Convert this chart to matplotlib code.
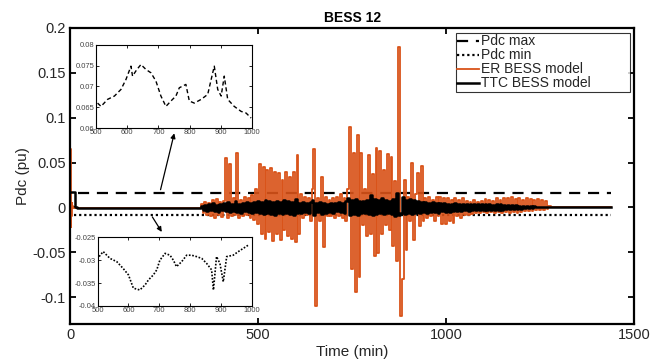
import numpy as np
import matplotlib
matplotlib.use("Agg")
import matplotlib.pyplot as plt

plt.rcParams['font.family'] = ['Liberation Sans', 'DejaVu Sans']

# ---------------- data ----------------
pdc_max_t = [20, 1440]
pdc_max_v = [0.0165, 0.0165]
pdc_min_t = [10, 1440]
pdc_min_v = [-0.008, -0.008]

# ER BESS model: start transient, flat part, active part (5-min samples from 350), tail
er_start_t = [0, 1, 2, 3, 4, 5, 7, 10, 15, 345]
er_start_v = [0.0, 0.065, -0.022, 0.030, -0.010, 0.005, 0.001, -0.001, -0.001, -0.001]
er_active_start = 350
er_active_v = [
    0.004, -0.006, 0.006, -0.008, 0.005, -0.010, 0.008, -0.012, 0.009, -0.008, 0.006, -0.011, 0.007,
    0.055, -0.012, 0.048, -0.010, 0.010, -0.008, 0.061, -0.012, 0.008, -0.010, 0.012, -0.009,
    0.010, -0.012, 0.014, -0.014, 0.020, -0.018,
    0.048, -0.030, 0.045, -0.035, 0.042, -0.028, 0.044, -0.038, 0.040, -0.030, 0.038, -0.036,
    0.030, -0.025, 0.040, -0.032, 0.034, -0.035, 0.040, -0.039, 0.058, -0.030, 0.015, -0.012,
    0.012, -0.008, 0.010, -0.015, 0.020,
    0.065, -0.110, 0.010, -0.015, 0.034, -0.044, 0.012, -0.010, 0.008, -0.010, 0.010, -0.012,
    0.012, -0.010, 0.015, -0.012, 0.010, -0.015, 0.020,
    0.090, -0.069, 0.061, -0.094, 0.081, -0.078, 0.061, -0.020, 0.020, -0.032, 0.058, -0.030,
    0.037, -0.054, 0.066, -0.051, 0.063, -0.030, 0.042, -0.020, 0.060, -0.025, 0.056, -0.043,
    0.029, -0.060,
    0.179, -0.121, -0.080, 0.031, -0.047, 0.012, -0.015, 0.049, -0.036, 0.015, 0.038, -0.021,
    0.046, -0.015, 0.010, -0.012, 0.012, -0.010, 0.008, -0.015, 0.012, -0.010, 0.012, -0.018,
    0.010, -0.019, 0.011,
    -0.015, 0.008, -0.017, 0.010, -0.010, 0.008, -0.012, 0.010, -0.008, 0.007, -0.009, 0.006,
    -0.007, 0.008, -0.006, 0.006, -0.006, 0.007, -0.005, 0.009, -0.006, 0.008, -0.005, 0.007,
    -0.006, 0.010, -0.005, 0.008, -0.006, 0.010, -0.005, 0.011, -0.006, 0.012, -0.005, 0.009,
    -0.006, 0.011, -0.005, 0.008, -0.004, 0.010, -0.004, 0.009, -0.004, 0.008, -0.003, 0.009,
    -0.003, 0.008, -0.003, 0.007, -0.002, 0.001,
]
er_tail_t = [1285, 1440]
er_tail_v = [0.0, 0.0]

# TTC BESS model
ttc_start_t = [0, 13, 16, 20, 345]
ttc_start_v = [0.017, 0.017, 0.0, -0.001, -0.001]
ttc_active_start = 350
ttc_active_v = [
    0.002, -0.003, 0.003, -0.004, 0.004, -0.003, 0.005, -0.004, 0.003, -0.005, 0.004, -0.003, 0.005,
    -0.004, 0.006, -0.005, 0.004, -0.004, 0.007, -0.005, 0.004, -0.006, 0.005, -0.004, 0.006,
    -0.005, 0.005, -0.006, 0.006, -0.005,
    0.007, -0.006, 0.006, -0.007, 0.008, -0.006, 0.007, -0.007, 0.006, -0.008, 0.007, -0.006,
    0.006, -0.007, 0.008, -0.006, 0.007, -0.007, 0.006, -0.008, 0.009, -0.006, 0.005, -0.006,
    0.006, -0.005, 0.005, -0.006, 0.006,
    0.008, -0.008, 0.005, -0.005, 0.006, -0.007, 0.005, -0.006, 0.004, -0.005, 0.005, -0.006,
    0.005, -0.004, 0.006, -0.005, 0.005, -0.006, 0.007,
    0.010, -0.008, 0.008, -0.007, 0.009, -0.008, 0.007, -0.006, 0.007, -0.006, 0.008, -0.007,
    0.014, -0.008, 0.009, -0.007, 0.008, -0.006, 0.010, -0.007, 0.008, -0.006, 0.007, -0.007,
    0.009, -0.010,
    0.016, -0.009, -0.006, 0.012, -0.007, 0.008, -0.006, 0.009, -0.007, 0.008, -0.006, 0.007,
    -0.006, 0.006, -0.005, 0.006, -0.006, 0.005, -0.005, 0.006, -0.005, 0.005, -0.006, 0.005,
    -0.004, 0.005, -0.005,
    0.004, -0.005, 0.004, -0.004, 0.005, -0.004, 0.004, -0.004, 0.004, -0.003, 0.004, -0.004,
    0.004, -0.003, 0.004, -0.003, 0.004, -0.003, 0.004, -0.003, 0.004, -0.003, 0.004, -0.003,
    0.003, -0.003, 0.004, -0.003, 0.004, -0.003, 0.003, -0.002, 0.003, -0.002, 0.003, -0.002,
    0.003, -0.002, 0.002, -0.002, 0.002, -0.001, 0.002, -0.001, 0.001, -0.001, 0.001, 0.000,
    0.000, 0.000, 0.000, 0.000, 0.000, 0.000,
]
ttc_tail_t = [1285, 1440]
ttc_tail_v = [0.0, 0.0]

# inset data
inset_top_t = [505, 516, 537, 559, 580, 596, 612, 617, 630, 644, 660, 676, 692, 708, 724,
               740, 756, 767, 788, 799, 815, 837, 858, 869, 879, 890, 901, 911, 922, 943,
               965, 981, 997]
inset_top_v = [0.0660, 0.0652, 0.0669, 0.0677, 0.0693, 0.0717, 0.0749, 0.0725, 0.0740,
               0.0753, 0.0741, 0.0733, 0.0713, 0.0677, 0.0652, 0.0665, 0.0677, 0.0697,
               0.0705, 0.0665, 0.0660, 0.0669, 0.0681, 0.0717, 0.0749, 0.0693, 0.0677,
               0.0725, 0.0669, 0.0652, 0.0640, 0.0636, 0.0624]
inset_bot_t = [505, 518, 540, 562, 583, 600, 616, 637, 654, 665, 681, 692, 702, 719, 735,
               746, 756, 773, 789, 805, 821, 838, 854, 870, 876, 886, 897, 908, 919, 940,
               957, 973, 989]
inset_bot_v = [-0.0292, -0.0281, -0.0296, -0.0303, -0.0318, -0.0332, -0.0361, -0.0365,
               -0.0354, -0.0343, -0.0332, -0.0321, -0.0300, -0.0285, -0.0289, -0.0300,
               -0.0314, -0.0303, -0.0289, -0.0289, -0.0292, -0.0296, -0.0307, -0.0321,
               -0.0365, -0.0292, -0.0307, -0.0347, -0.0292, -0.0289, -0.0281, -0.0274,
               -0.0267]

xticks = [0, 500, 1000, 1500]
yticks = [-0.1, -0.05, 0, 0.05, 0.1, 0.15, 0.2]
ytick_labels = ['-0.1', '-0.05', '0', '0.05', '0.1', '0.15', '0.2']

# ---------------- build series ----------------
er_t = np.concatenate([er_start_t,
                       er_active_start + 5 * np.arange(len(er_active_v)),
                       er_tail_t])
er_v = np.concatenate([er_start_v, er_active_v, er_tail_v])
ttc_t = np.concatenate([ttc_start_t,
                        ttc_active_start + 5 * np.arange(len(ttc_active_v)),
                        ttc_tail_t])
ttc_v = np.concatenate([ttc_start_v, ttc_active_v, ttc_tail_v])

ORANGE = '#D95319'
TXT = '#262626'

fig = plt.figure(figsize=(6.65, 3.62), dpi=100)
ax = fig.add_axes([0.1053, 0.105, 0.8481, 0.8177])

ax.plot(pdc_max_t, pdc_max_v, ls=(0, (5, 3.5)), color='black', lw=1.6, label='Pdc max')
ax.plot(pdc_min_t, pdc_min_v, ls=(0, (1, 1.3)), color='black', lw=1.6, label='Pdc min')
ax.plot(er_t, er_v, color=ORANGE, lw=1.3, drawstyle='steps-mid', label='ER BESS model')
ax.plot(ttc_t, ttc_v, color='black', lw=1.8, drawstyle='steps-mid', label='TTC BESS model')

ax.set_xlim(0, 1500)
ax.set_ylim(-0.13, 0.2)
ax.set_xticks(xticks)
ax.set_xticklabels([str(t) for t in xticks])
ax.set_yticks(yticks)
ax.set_yticklabels(ytick_labels)
ax.tick_params(direction='in', length=4, width=1.3, top=True, right=True,
               labelsize=10.5, labelcolor=TXT, pad=3)
for s in ax.spines.values():
    s.set_linewidth(1.6)
ax.set_xlabel('Time (min)', fontsize=11, color=TXT, labelpad=2)
ax.set_ylabel('Pdc (pu)', fontsize=11, color=TXT, labelpad=2)
ax.set_title('BESS 12', fontsize=10, fontweight='bold', pad=4)

leg = ax.legend(loc='upper left', bbox_to_anchor=(0.684, 0.797, 0.3085, 0.186),
                mode='expand', fontsize=10, frameon=True, fancybox=False,
                edgecolor='black', borderpad=0.1, labelspacing=0.0,
                handlelength=1.6, handletextpad=0.1, borderaxespad=0.0)
leg.get_frame().set_linewidth(0.8)
for t in leg.get_texts():
    t.set_color(TXT)

# arrows
ax.annotate('', xy=(279, 0.0856), xytext=(239, 0.0167),
            arrowprops=dict(arrowstyle='-|>', color='black', lw=0.9, mutation_scale=7))
ax.annotate('', xy=(248, -0.030), xytext=(215, -0.008),
            arrowprops=dict(arrowstyle='-|>', color='black', lw=0.9, mutation_scale=7))

# insets
def style_inset(a, ylim, yt, ytl):
    a.set_xlim(500, 1000)
    a.set_ylim(*ylim)
    a.set_xticks([500, 600, 700, 800, 900, 1000])
    a.set_yticks(yt)
    a.set_yticklabels(ytl)
    a.tick_params(direction='in', length=2, width=0.6, top=True, right=True,
                  labelsize=5.5, labelcolor='#444444', pad=1)
    for s in a.spines.values():
        s.set_linewidth(0.8)

ins1 = fig.add_axes([0.1444, 0.6464, 0.2346, 0.2293])
ins1.plot(inset_top_t, inset_top_v, ls=(0, (3, 2)), color='black', lw=1.0)
style_inset(ins1, (0.06, 0.08), [0.06, 0.065, 0.07, 0.075, 0.08],
            ['0.06', '0.065', '0.07', '0.075', '0.08'])

ins2 = fig.add_axes([0.1468, 0.1547, 0.2316, 0.1896])
ins2.plot(inset_bot_t, inset_bot_v, ls=(0, (1, 1)), color='black', lw=1.2)
style_inset(ins2, (-0.04, -0.025), [-0.04, -0.035, -0.03, -0.025],
            ['-0.04', '-0.035', '-0.03', '-0.025'])

fig.savefig('out.png', dpi=100)
